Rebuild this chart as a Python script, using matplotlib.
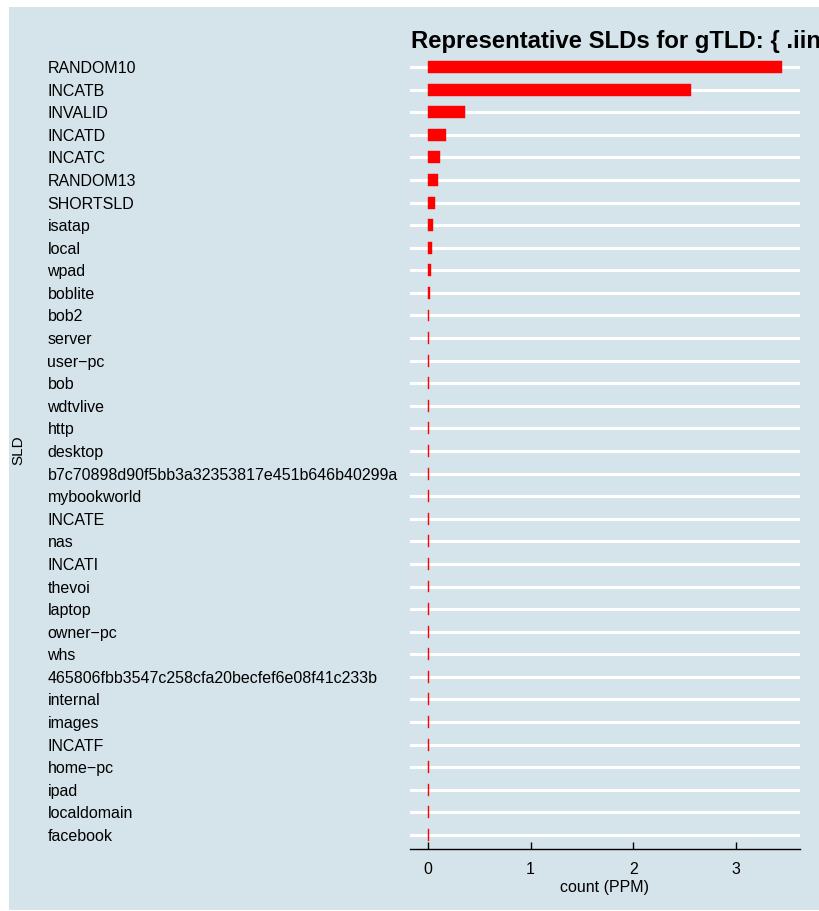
import matplotlib
matplotlib.use("Agg")
import matplotlib.pyplot as plt
from matplotlib.patches import Rectangle

slds = ["RANDOM10", "INCATB", "INVALID", "INCATD", "INCATC", "RANDOM13", "SHORTSLD",
        "isatap", "local", "wpad", "boblite", "bob2", "server", "user\u2212pc", "bob",
        "wdtvlive", "http", "desktop", "b7c70898d90f5bb3a32353817e451b646b40299a",
        "mybookworld", "INCATE", "nas", "INCATI", "thevoi", "laptop", "owner\u2212pc",
        "whs", "465806fbb3547c258cfa20becfef6e08f41c233b", "internal", "images",
        "INCATF", "home\u2212pc", "ipad", "localdomain", "facebook"]
counts = [3.447, 2.563, 0.36, 0.175, 0.117, 0.097, 0.068,
          0.049, 0.039, 0.029, 0.019, 0.011, 0.011, 0.011, 0.011,
          0.010, 0.010, 0.010, 0.010,
          0.010, 0.010, 0.010, 0.010, 0.010, 0.010, 0.010,
          0.010, 0.010, 0.010, 0.010,
          0.010, 0.010, 0.010, 0.010, 0.010]
xticks = [0, 1, 2, 3]

bg = "#d5e4eb"
plt.rcParams['font.family'] = ['Liberation Sans', 'DejaVu Sans']

fig = plt.figure(figsize=(8.19, 9.11), dpi=100)
fig.patch.set_facecolor("white")
fig.patches.append(Rectangle((9 / 819, 1 / 911), 1, 903 / 911, transform=fig.transFigure,
                             facecolor=bg, edgecolor="none", zorder=-10))

ax = fig.add_axes([410 / 819, (911 - 848.5) / 911, 390 / 819, 795 / 911])
ax.set_facecolor(bg)

ypos = list(range(len(slds)))
for y in ypos:
    ax.axhline(y, color="white", lw=2.2, zorder=1)
ax.barh(ypos, counts, height=0.53, color="#ff0000", edgecolor="#ff0000",
        linewidth=0.3, zorder=2)

ax.set_ylim(len(slds) - 0.4, -0.6)
ax.set_xlim(-0.172, 3.619)
ax.set_yticks(ypos)
ax.set_yticklabels(slds, ha="left", fontsize=11.5)
ax.tick_params(axis="y", length=0, pad=261)
ax.set_xticks(xticks)
ax.set_xticklabels([str(t) for t in xticks], fontsize=11.5)
ax.tick_params(axis="x", direction="in", length=5, width=1, pad=10)

for s in ["top", "left", "right"]:
    ax.spines[s].set_visible(False)
ax.spines["bottom"].set_linewidth(1)

ax.set_xlabel("count (PPM)", fontsize=11.5, labelpad=2)
fig.text(18 / 819, (911 - 450) / 911, "SLD", rotation=90, fontsize=11,
         ha="center", va="center")
# title runs off the right edge, as in the original
fig.text(411 / 819, (911 - 48) / 911, "Representative SLDs for gTLD: { .iinet }",
         fontsize=17.2, fontweight="bold", ha="left", va="baseline")

fig.savefig("out.png", dpi=100, facecolor=fig.get_facecolor())
